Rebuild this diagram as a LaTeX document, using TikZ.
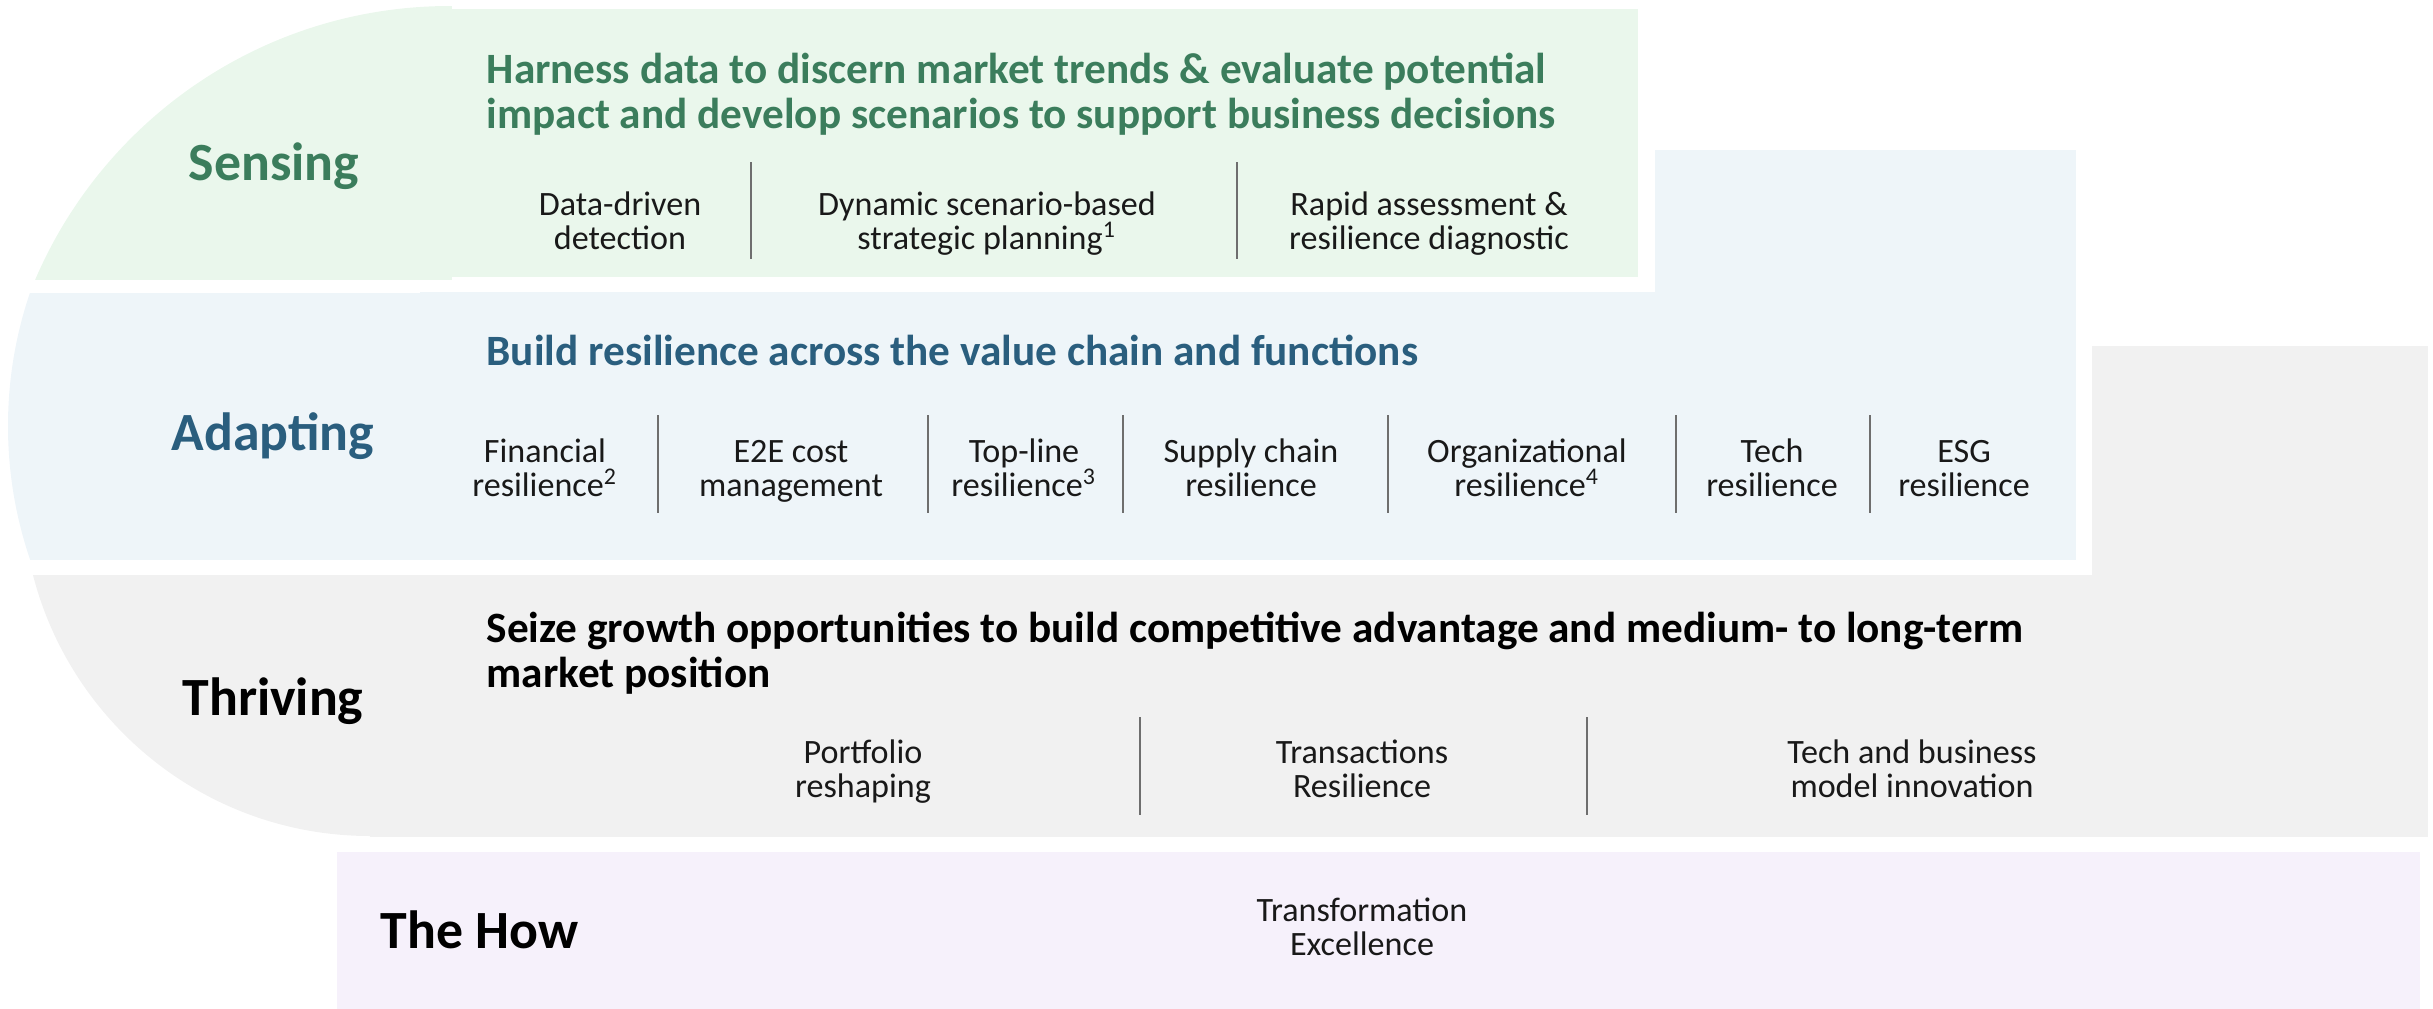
\documentclass[tikz,border=0pt]{standalone}
\usepackage{fontspec}
\setmainfont{Carlito}
\definecolor{sensefill}{RGB}{234,247,236}
\definecolor{adaptfill}{RGB}{238,245,249}
\definecolor{thrivefill}{RGB}{241,241,241}
\definecolor{howfill}{RGB}{246,241,251}
\definecolor{sensetext}{RGB}{59,125,92}
\definecolor{adapttext}{RGB}{42,94,126}
\definecolor{bodytext}{RGB}{25,25,25}
\definecolor{sepgray}{RGB}{110,110,110}
\newcommand\twolines[2]{\begin{tabular}[t]{@{}c@{}}#1\\#2\end{tabular}}
\newcommand\twoleft[2]{\begin{tabular}[t]{@{}l@{}}#1\\#2\end{tabular}}
\newcommand\supnum[1]{\smash{\textsuperscript{#1}}}
\begin{document}
\begin{tikzpicture}[x=0.01cm,y=-0.01cm,
  title/.style={font=\fontsize{15.3}{18}\selectfont\bfseries, inner sep=0, anchor=base},
  heading/.style={font=\fontsize{12.3}{12.8}\selectfont\bfseries, inner sep=0, anchor=base west},
  item/.style={font=\fontsize{9.7}{9.9}\selectfont, text=bodytext, inner sep=0, anchor=base},
  sepline/.style={draw=sepgray, line width=0.45pt}
]
\useasboundingbox (0,0) rectangle (2433,1009);

% ---------- backgrounds ----------
% Sensing
\fill[sensefill] (450,9) rectangle (1638,277);
\begin{scope}
  \clip (450,457) circle[radius=451];
  \fill[sensefill] (0,6) rectangle (452,280);
\end{scope}
% Adapting
\fill[adaptfill] (420,292) rectangle (2076,560);
\fill[adaptfill] (1655,150) rectangle (2076,293);
\begin{scope}
  \clip (421,426) circle[radius=413];
  \fill[adaptfill] (0,293) rectangle (430,560);
\end{scope}
% Thriving
\fill[thrivefill] (370,575) rectangle (2428,837);
\fill[thrivefill] (2092,346) rectangle (2428,576);
\begin{scope}
  \clip (370,488) circle[radius=348];
  \fill[thrivefill] (0,575) rectangle (455,837);
\end{scope}
% The How
\fill[howfill] (337,852) rectangle (2420,1009);

% ---------- Sensing ----------
\node[title, text=sensetext] (sensing) at (274,180) {Sensing};
\node[heading, text=sensetext] (senseh) at (486,83)
  {\twoleft{Harness data to discern market trends \& evaluate potential}{impact and develop scenarios to support business decisions}};
\node[item] (s1) at (620,215) {\twolines{Data-driven}{detection}};
\node[item] (s2) at (987,215) {\twolines{Dynamic scenario-based}{strategic planning\supnum{1}}};
\node[item] (s3) at (1429,215) {\twolines{Rapid assessment \&}{resilience diagnostic}};
\draw[sepline] (751,162) -- (751,259);
\draw[sepline] (1237,162) -- (1237,259);

% ---------- Adapting ----------
\node[title, text=adapttext] (adapting) at (273,450) {Adapting};
\node[heading, text=adapttext] (adapth) at (486,365) {Build resilience across the value chain and functions};
\node[item] (a1) at (545,462) {\twolines{Financial}{resilience\supnum{2}}};
\node[item] (a2) at (791,462) {\twolines{E2E cost}{management}};
\node[item] (a3) at (1024,462) {\twolines{Top-line}{resilience\supnum{3}}};
\node[item] (a4) at (1251,462) {\twolines{Supply chain}{resilience}};
\node[item] (a5) at (1527,462) {\twolines{Organizational}{resilience\supnum{4}}};
\node[item] (a6) at (1772,462) {\twolines{Tech}{resilience}};
\node[item] (a7) at (1964,462) {\twolines{ESG}{resilience}};
\foreach \x in {658,928,1123,1388,1676,1870}
  \draw[sepline] (\x,415) -- (\x,513);

% ---------- Thriving ----------
\node[title, text=black] (thriving) at (273,715) {Thriving};
\node[heading, text=black] (thriveh) at (486,642)
  {\twoleft{Seize growth opportunities to build competitive advantage and medium- to long-term}{market position}};
\node[item] (t1) at (863,763) {\twolines{Portfolio}{reshaping}};
\node[item] (t2) at (1362,763) {\twolines{Transactions}{Resilience}};
\node[item] (t3) at (1912,763) {\twolines{Tech and business}{model innovation}};
\draw[sepline] (1140,717) -- (1140,815);
\draw[sepline] (1587,717) -- (1587,815);

% ---------- The How ----------
\node[title, text=black, anchor=base west] (thehow) at (380,948) {The How};
\node[item] (h1) at (1362,921) {\twolines{Transformation}{Excellence}};
\end{tikzpicture}
\end{document}
